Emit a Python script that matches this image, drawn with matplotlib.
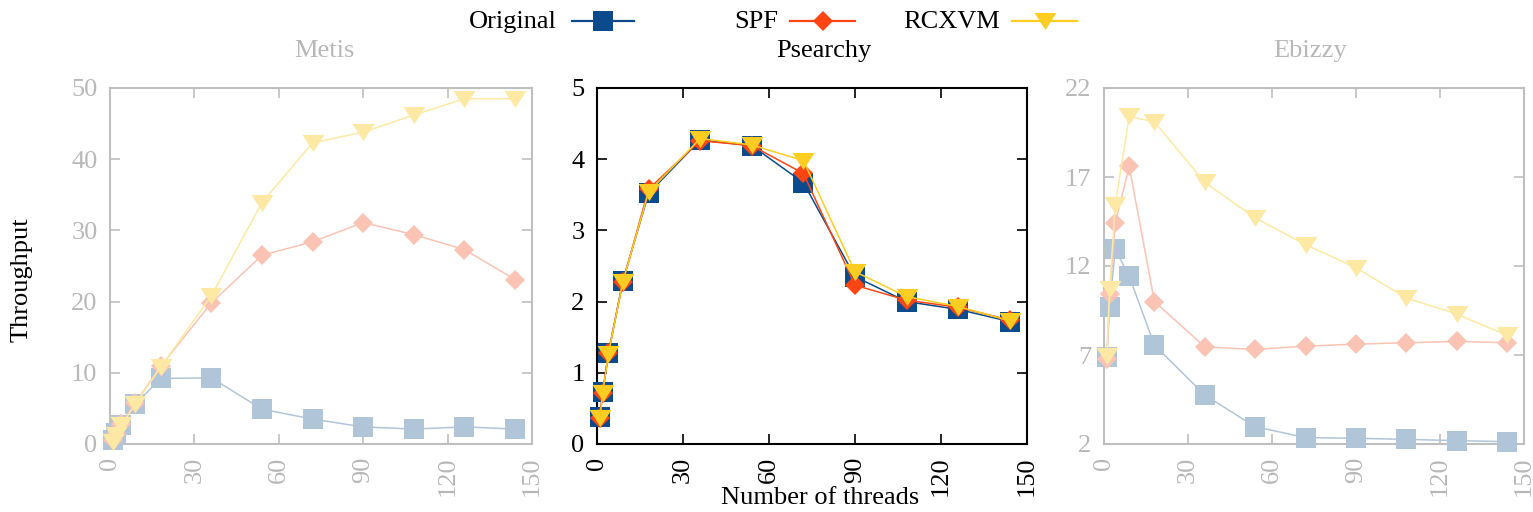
import matplotlib
matplotlib.use("Agg")
import matplotlib.pyplot as plt
from matplotlib.lines import Line2D

plt.rcParams['font.family'] = ['Liberation Serif', 'DejaVu Serif']

threads = [1, 2, 4, 9, 18, 36, 54, 72, 90, 108, 126, 144]
series_names = ["Original", "SPF", "RCXVM"]

metis_original = [0.5, 1.5, 2.7, 5.6, 9.2, 9.3, 4.9, 3.5, 2.4, 2.1, 2.4, 2.1]
metis_spf = [0.5, 1.4, 2.8, 5.8, 10.9, 19.8, 26.5, 28.4, 31.1, 29.4, 27.3, 23.1]
metis_rcxvm = [0.3, 1.2, 2.6, 5.6, 10.8, 20.8, 33.9, 42.3, 43.8, 46.2, 48.5, 48.5]

psearchy_original = [0.38, 0.73, 1.28, 2.29, 3.52, 4.27, 4.19, 3.67, 2.35, 2.0, 1.89, 1.72]
psearchy_spf = [0.37, 0.72, 1.28, 2.27, 3.58, 4.26, 4.19, 3.80, 2.23, 2.02, 1.92, 1.74]
psearchy_rcxvm = [0.36, 0.72, 1.27, 2.28, 3.54, 4.29, 4.20, 3.98, 2.42, 2.07, 1.93, 1.73]

ebizzy_original = [6.86, 9.67, 12.93, 11.43, 7.56, 4.75, 2.97, 2.36, 2.32, 2.26, 2.19, 2.13]
ebizzy_spf = [6.8, 10.4, 14.4, 17.6, 10.0, 7.46, 7.31, 7.5, 7.61, 7.69, 7.76, 7.69]
ebizzy_rcxvm = [6.94, 10.7, 15.4, 20.4, 20.1, 16.7, 14.7, 13.2, 11.9, 10.2, 9.3, 8.1]

titles = ["Metis", "Psearchy", "Ebizzy"]
x_ticks = [0, 30, 60, 90, 120, 150]
metis_yticks = [0, 10, 20, 30, 40, 50]
psearchy_yticks = [0, 1, 2, 3, 4, 5]
ebizzy_yticks = [2, 7, 12, 17, 22]

strong = ["#0b4a8b", "#ff4513", "#ffcc22"]
faded = ["#b1c5d9", "#fbc3b3", "#fde9a4"]
grey_text = "#b8b8b8"
grey_spine = "#bfbfbf"

tri = [(-1, 0.78), (1, 0.78), (0, -0.78)]
markers = ["s", "D", tri]
msizes = [14.4, 9.8, 15.8]

W, H = 1533, 512
fig = plt.figure(figsize=(W / 100, H / 100), dpi=100)

def px_axes(l, r, t, b):
    return fig.add_axes([l / W, (H - b) / H, (r - l) / W, (b - t) / H])

FS = 19

def setup(ax, yticks, fadedax):
    col = grey_spine if fadedax else "black"
    tcol = grey_text if fadedax else "black"
    ax.set_xlim(0, 150)
    ax.set_ylim(yticks[0], yticks[-1])
    ax.set_xticks(x_ticks)
    ax.set_yticks(yticks)
    ax.set_xticklabels([str(v) for v in x_ticks], rotation=90)
    for s in ax.spines.values():
        s.set_color(col)
        s.set_linewidth(1.5)
    ax.tick_params(direction="in", length=7, width=1.2, colors=col,
                   top=True, right=True, labelsize=FS, labelcolor=tcol)
    ax.tick_params(axis="y", pad=9)
    ax.tick_params(axis="x", pad=9)

def draw(ax, data, colors):
    for i, ys in enumerate(data):
        ax.plot(threads, ys, color=colors[i], lw=1.1, marker=markers[i],
                ms=msizes[i], markeredgewidth=0, clip_on=False, zorder=3 + i)

ax1 = px_axes(110, 532, 88, 444)
setup(ax1, metis_yticks, True)
draw(ax1, [metis_original, metis_spf, metis_rcxvm], faded)

ax2 = px_axes(597, 1027, 88, 444)
setup(ax2, psearchy_yticks, False)
draw(ax2, [psearchy_original, psearchy_spf, psearchy_rcxvm], strong)

ax3 = px_axes(1104, 1524, 88, 444)
setup(ax3, ebizzy_yticks, True)
draw(ax3, [ebizzy_original, ebizzy_spf, ebizzy_rcxvm], faded)

# titles
for name, cx, c in zip(titles, [324, 824, 1310], [grey_text, "black", grey_text]):
    fig.text(cx / W, 1 - 57 / H, name, ha="center", va="baseline", fontsize=FS, color=c)

fig.text(22 / W, 1 - 280 / H, "Throughput", rotation=90, ha="center", va="center", fontsize=FS)
fig.text(820 / W, 1 - 504 / H, "Number of threads", ha="center", va="baseline", fontsize=FS)

# legend
leg_text_right = [557, 778, 1000]
leg_line = [(572, 634), (790, 855), (1012, 1077)]
ly = 21
for i, name in enumerate(series_names):
    fig.text(leg_text_right[i] / W, 1 - 28 / H, name, ha="right", va="baseline", fontsize=FS)
    x0, x1 = leg_line[i]
    fig.add_artist(Line2D([x0 / W, x1 / W], [1 - ly / H, 1 - ly / H], color=strong[i], lw=1.6,
                          transform=fig.transFigure))
    fig.add_artist(Line2D([(x0 + x1) / 2 / W], [1 - ly / H], color=strong[i], marker=markers[i],
                          ms=msizes[i], markeredgewidth=0, transform=fig.transFigure))

fig.savefig("out.png", dpi=100)
